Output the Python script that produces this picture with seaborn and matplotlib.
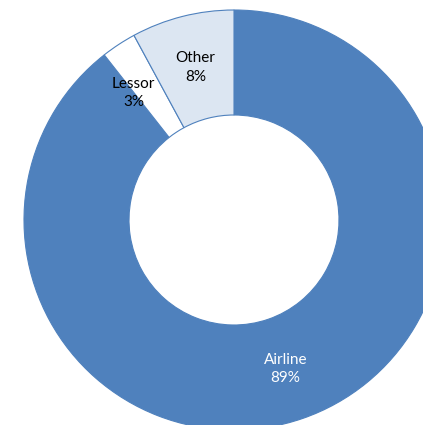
import numpy as np
import matplotlib
matplotlib.use("Agg")
import matplotlib.pyplot as plt
import seaborn as sns

# Share of aircraft by owner type (clockwise from 12 o'clock)
owners = ["Airline", "Lessor", "Other"]
shares = [89.4, 2.7, 7.9]
colors = ["#4F81BD", "#FFFFFF", "#DCE6F2"]
text_colors = ["white", "black", "black"]

sns.set_theme(style="white")
plt.rcParams["font.family"] = ["Lato", "DejaVu Sans"]

fig = plt.figure(figsize=(4.23, 4.25), dpi=100)
ax = fig.add_axes([0, 0, 1, 1])

wedges, _ = ax.pie(shares, colors=colors, startangle=90, counterclock=False,
                   radius=1.0, wedgeprops=dict(width=0.5, edgecolor="#4F81BD", linewidth=0.8))

# labels in the middle of each ring segment
for w, name, val, tc in zip(wedges, owners, shares, text_colors):
    mid = np.deg2rad((w.theta1 + w.theta2) / 2)
    r = 0.75
    if name == "Lessor":
        mid += np.deg2rad(5)
        r = 0.77
    ax.text(r * np.cos(mid), r * np.sin(mid), f"{name}\n{val:.0f}%",
            ha="center", va="center", fontsize=11, color=tc, linespacing=1.4)

# donut is cropped at right and bottom like the original
ax.set_xlim(-234 / 210, (423 - 234) / 210)
ax.set_ylim((220 - 425) / 210, 220 / 210)
ax.set_aspect("equal")
ax.axis("off")

fig.savefig("out.png", dpi=100)
